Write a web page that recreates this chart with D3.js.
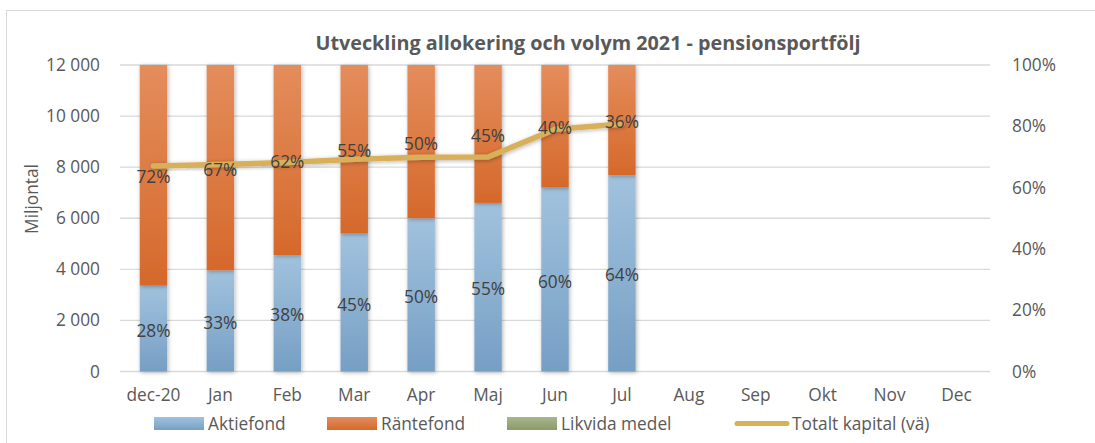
<!DOCTYPE html>
<html>
<head>
<meta charset="utf-8">
<script src="https://cdn.jsdelivr.net/npm/d3@7"></script>
<style>
	body { margin: 0; background: #fff; }
	text { font-family: "Open Sans", sans-serif; fill: #595959; }
</style>
</head>
<body>
<div id="chart"></div>
<script>
var months = ['dec-20', 'Jan', 'Feb', 'Mar', 'Apr', 'Maj', 'Jun', 'Jul', 'Aug', 'Sep', 'Okt', 'Nov', 'Dec'];
var aktiefond = [0.28, 0.33, 0.38, 0.45, 0.50, 0.55, 0.60, 0.64];
var rantefond = [0.72, 0.67, 0.62, 0.55, 0.50, 0.45, 0.40, 0.36];
var likvida = [0, 0, 0, 0, 0, 0, 0, 0];
var totaltKapital = [8050, 8100, 8180, 8310, 8390, 8400, 9480, 9690];
var leftTicks = [0, 2000, 4000, 6000, 8000, 10000, 12000];
var rightTicks = [0, 0.2, 0.4, 0.6, 0.8, 1];
var seriesNames = ['Aktiefond', 'Räntefond', 'Likvida medel', 'Totalt kapital (vä)'];

var w = 1095, h = 443;
var pLeft = 120, pRight = 990, pTop = 65, pBottom = 371.5;
var fs = '17.3px';

var svg = d3.select('#chart').append('svg')
	.attr('width', w).attr('height', h);

var defs = svg.append('defs');
function grad(id, c1, c2) {
	var g = defs.append('linearGradient').attr('id', id)
		.attr('x1', 0).attr('y1', 0).attr('x2', 0).attr('y2', 1);
	g.append('stop').attr('offset', '0%').attr('stop-color', c1);
	g.append('stop').attr('offset', '100%').attr('stop-color', c2);
}
grad('gBlue', '#a1c2de', '#769fc4');
grad('gOrange', '#e48d5c', '#d5692b');
grad('gGreen', '#a9b58c', '#8c9a6a');

var shadow = defs.append('filter').attr('id', 'shadow')
	.attr('x', '-30%').attr('y', '-10%').attr('width', '160%').attr('height', '120%');
shadow.append('feDropShadow')
	.attr('dx', 1).attr('dy', 1).attr('stdDeviation', 2)
	.attr('flood-color', '#000').attr('flood-opacity', 0.3);

// border
svg.append('rect')
	.attr('x', 6.5).attr('y', 10.5).attr('width', w + 10).attr('height', h)
	.attr('fill', 'none').attr('stroke', '#d9d9d9');

var x = d3.scaleBand().domain(months).range([pLeft, pRight]).paddingInner(0.59).paddingOuter(0.295);
var yL = d3.scaleLinear().domain([0, 12000]).range([pBottom, pTop]);
var yR = d3.scaleLinear().domain([0, 1]).range([pBottom, pTop]);

// grid
svg.append('g').selectAll('line')
	.data(leftTicks)
	.enter().append('line')
	.attr('x1', pLeft).attr('x2', pRight)
	.attr('y1', function(d) { return yL(d); })
	.attr('y2', function(d) { return yL(d); })
	.attr('stroke', '#d9d9d9').attr('stroke-width', 1.3);

// axes
var axL = svg.append('g').attr('transform', 'translate(' + (pLeft - 17) + ',0)')
	.call(d3.axisLeft(yL).tickValues(leftTicks).tickSize(0)
		.tickFormat(function(d) { return d3.format(',')(d).replace(',', ' '); }));
var axR = svg.append('g').attr('transform', 'translate(' + (pRight + 19) + ',0)')
	.call(d3.axisRight(yR).tickValues(rightTicks).tickSize(0).tickFormat(d3.format('.0%')));
var axX = svg.append('g').attr('transform', 'translate(0,' + (pBottom + 14) + ')')
	.call(d3.axisBottom(x).tickSize(0));
[axL, axR, axX].forEach(function(a) {
	a.select('.domain').remove();
	a.selectAll('text').attr('font-size', fs).attr('font-family', '"Open Sans", sans-serif').attr('fill', '#595959');
});

// bars
var rows = months.slice(0, aktiefond.length).map(function(m, i) {
	return { month: m, a: aktiefond[i], r: rantefond[i], l: likvida[i] };
});
var stack = d3.stack().keys(['a', 'r', 'l'])(rows);
var fills = ['url(#gBlue)', 'url(#gOrange)', 'url(#gGreen)'];

var layers = svg.append('g').selectAll('g')
	.data(stack)
	.enter().append('g')
	.attr('fill', function(d, i) { return fills[i]; });

layers.selectAll('rect')
	.data(function(d) { return d; })
	.enter().append('rect')
	.attr('x', function(d) { return x(d.data.month); })
	.attr('y', function(d) { return yR(d[1]); })
	.attr('width', x.bandwidth())
	.attr('height', function(d) { return yR(d[0]) - yR(d[1]); })
	.attr('filter', 'url(#shadow)');

// line
var line = d3.line()
	.x(function(d, i) { return x(months[i]) + x.bandwidth() / 2; })
	.y(function(d) { return yL(d); });
svg.append('path')
	.datum(totaltKapital)
	.attr('d', line)
	.attr('fill', 'none')
	.attr('stroke', '#d9b05a')
	.attr('stroke-width', 5.5)
	.attr('stroke-linejoin', 'round')
	.attr('stroke-linecap', 'round')
	.attr('filter', 'url(#shadow)');

// data labels
stack.slice(0, 2).forEach(function(s) {
	svg.append('g').selectAll('text')
		.data(s)
		.enter().append('text')
		.text(function(d) { return Math.round((d[1] - d[0]) * 100) + '%'; })
		.attr('x', function(d) { return x(d.data.month) + x.bandwidth() / 2; })
		.attr('y', function(d) { return (yR(d[0]) + yR(d[1])) / 2 + 8; })
		.attr('text-anchor', 'middle')
		.attr('font-size', fs)
		.style('fill', '#404040');
});

// title
svg.append('text')
	.text('Utveckling allokering och volym 2021 - pensionsportfölj')
	.attr('x', 588).attr('y', 50)
	.attr('text-anchor', 'middle')
	.attr('font-size', '19.8px')
	.attr('font-weight', 'bold');

// y title
svg.append('text')
	.text('Miljontal')
	.attr('transform', 'translate(38,199) rotate(-90)')
	.attr('text-anchor', 'middle')
	.attr('font-size', fs);

// legend
var legX = [154, 327, 507, 735];
var legFill = ['url(#gBlue)', 'url(#gOrange)', 'url(#gGreen)'];
var leg = svg.append('g').selectAll('g')
	.data(seriesNames)
	.enter().append('g')
	.attr('transform', function(d, i) { return 'translate(' + legX[i] + ',417)'; });
leg.filter(function(d, i) { return i < 3; }).append('rect')
	.attr('width', 50).attr('height', 13)
	.attr('fill', function(d, i) { return legFill[i]; });
leg.filter(function(d, i) { return i == 3; }).append('line')
	.attr('x1', 2).attr('x2', 52).attr('y1', 6.5).attr('y2', 6.5)
	.attr('stroke', '#d9b05a').attr('stroke-width', 5).attr('stroke-linecap', 'round');
leg.append('text')
	.text(function(d) { return d; })
	.attr('x', function(d, i) { return i == 3 ? 57 : 54; })
	.attr('y', 13)
	.attr('font-size', fs);
</script>
</body>
</html>
